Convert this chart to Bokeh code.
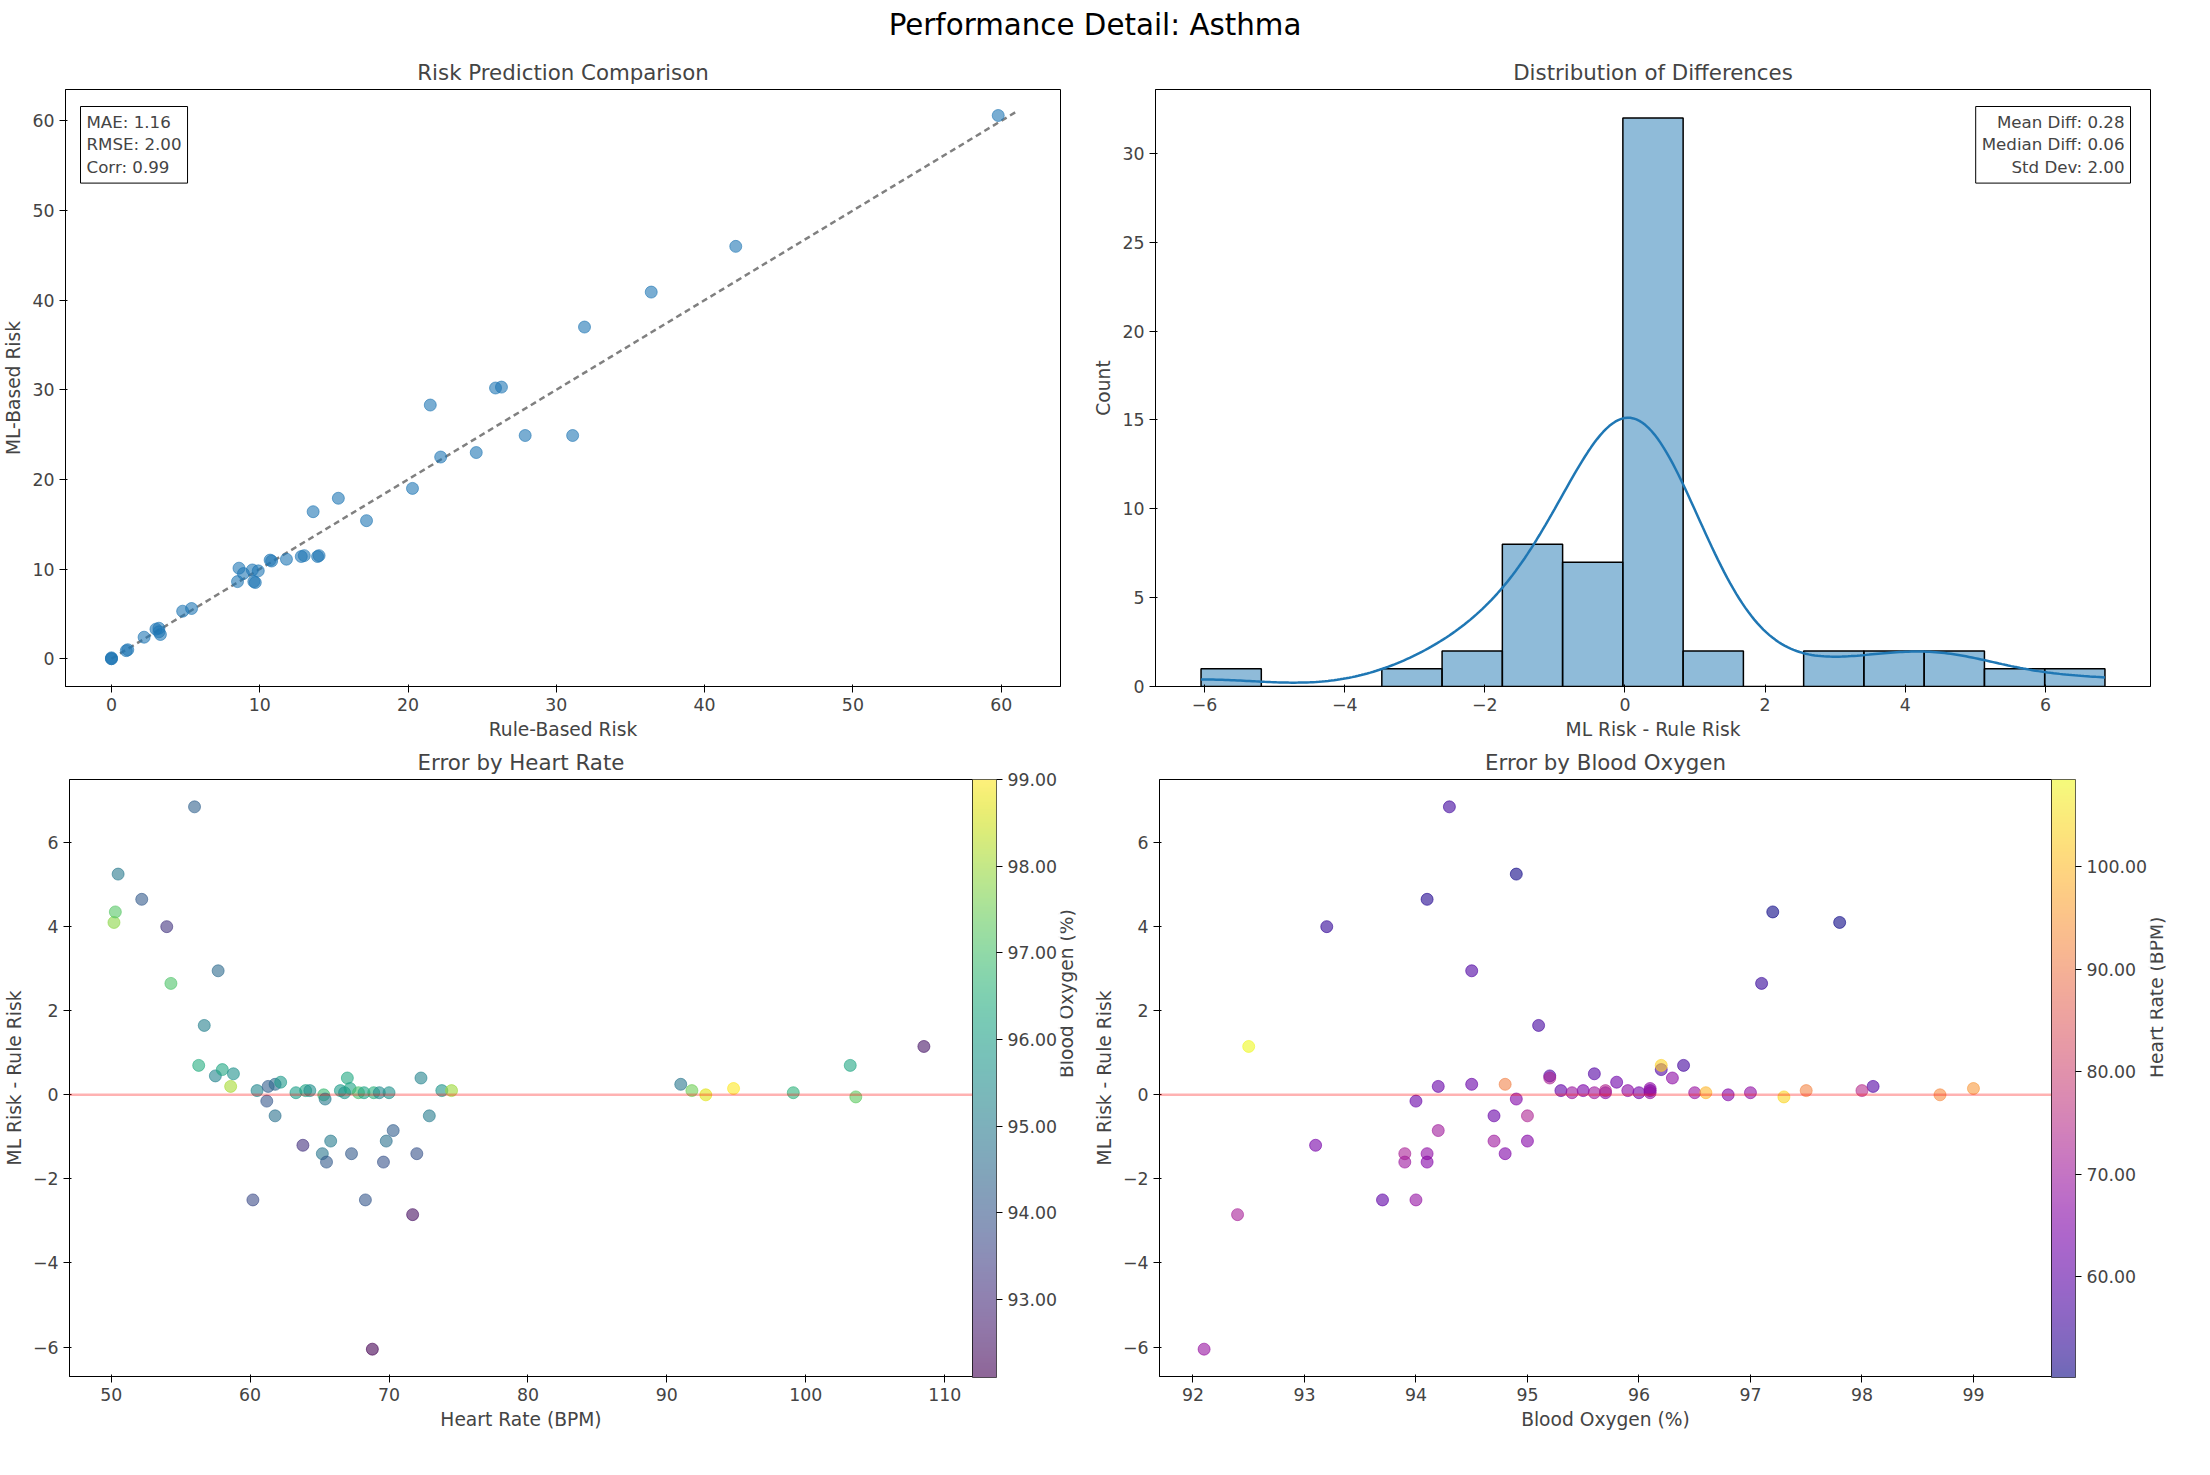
import numpy as np
from bokeh.plotting import figure
from bokeh.layouts import row, column
from bokeh.models import (Div, Label, Span, ColorBar, LinearColorMapper, LinearAxis,
                          NumeralTickFormatter, ColumnDataSource, Range1d)
from bokeh.palettes import Viridis256, Plasma256
from bokeh.embed import file_html
from bokeh.resources import INLINE

# top-left: rule-based vs ML-based risk
rule_risk = [0, 0, 0, 1, 1.1, 2.2, 3, 3.2, 3.3, 3.2, 4.8, 5.4, 8.5, 8.6, 8.9, 9.5, 9.6, 9.7, 9.9, 10.7, 10.8,
             11.8, 12.8, 13, 13.6, 13.9, 14, 15.3, 17.2, 20.3, 21.5, 22.2, 24.6, 25.9, 26.3, 27.9, 31.1, 31.9,
             36.4, 42.1, 59.8]
ml_risk = [0, 0.1, 0, 0.9, 1, 2.4, 3.3, 3.4, 2.7, 3.0, 5.3, 5.6, 8.6, 10.1, 9.5, 9.9, 8.6, 8.5, 9.8, 11, 10.9,
           11.1, 11.4, 11.5, 16.4, 11.4, 11.5, 17.9, 15.4, 19, 28.3, 22.5, 23, 30.2, 30.3, 24.9, 24.9, 37,
           40.9, 46, 60.6]

# top-right: histogram of differences
hist_counts = [1, 0, 0, 1, 2, 8, 7, 32, 2, 0, 2, 2, 2, 1, 1]
hist_lo, hist_hi = -6.05, 6.85

# bottom: per-patient heart rate, blood oxygen, difference
heart_rate = [50.2, 50.3, 50.5, 52.2, 54.0, 54.3, 56.0, 56.7, 56.3, 57.7, 57.5, 58.0, 58.6, 58.8, 60.2, 60.5,
              61.3, 61.2, 61.8, 61.8, 62.2, 63.3, 63.8, 64.0, 64.3, 65.2, 65.3, 65.4, 65.5, 65.8, 66.5, 66.8,
              67.0, 67.2, 67.3, 67.8, 68.2, 68.3, 68.8, 68.9, 69.3, 69.6, 69.8, 70.0, 70.3, 71.7, 72.0, 72.3,
              72.9, 73.8, 74.5, 91.0, 91.8, 92.8, 94.8, 99.1, 103.2, 103.6, 108.5]
blood_oxygen = [97.8, 97.2, 94.9, 94.1, 93.2, 97.1, 94.3, 95.1, 96.4, 94.5, 95.2, 96.2, 98.1, 95.6, 93.7, 95.3,
                94.2, 94.0, 94.5, 94.7, 95.8, 96.0, 93.1, 96.1, 95.5, 94.8, 96.8, 94.9, 94.1, 95.0, 95.9, 95.7,
                96.3, 96.1, 94.1, 97.0, 96.1, 94.0, 92.1, 96.5, 95.4, 93.9, 94.7, 95.6, 94.2, 92.4, 93.9, 95.2,
                95.0, 95.7, 98.0, 94.8, 97.5, 98.7, 99.0, 96.6, 96.2, 97.3, 92.5]
diff = [4.1, 4.35, 5.25, 4.65, 4.0, 2.65, 6.85, 1.65, 0.7, 2.95, 0.45, 0.6, 0.2, 0.5, -2.5, 0.1, 0.2, -0.15,
        0.25, -0.5, 0.3, 0.05, -1.2, 0.1, 0.1, -1.4, 0.0, -0.1, -1.6, -1.1, 0.1, 0.05, 0.4, 0.15, -1.4, 0.05,
        0.05, -2.5, -6.05, 0.05, 0.05, -1.6, -1.1, 0.05, -0.85, -2.85, -1.4, 0.4, -0.5, 0.1, 0.1, 0.25, 0.1,
        0.0, 0.15, 0.05, 0.7, -0.05, 1.15]

BLUE = "#1f77b4"
FONT = "DejaVu Sans"
W, H = 1090, 690


def make_fig(title, xlabel, ylabel, xr, yr):
    p = figure(width=W, height=H, output_backend="svg", toolbar_location=None,
               x_range=Range1d(*xr), y_range=Range1d(*yr), title=title)
    p.title.align = "center"
    p.title.text_font = FONT
    p.title.text_font_size = "16pt"
    p.title.text_font_style = "normal"
    p.xaxis.axis_label = xlabel
    p.yaxis.axis_label = ylabel
    for ax in (p.xaxis, p.yaxis):
        ax.axis_label_text_font = FONT
        ax.axis_label_text_font_size = "14pt"
        ax.axis_label_text_font_style = "normal"
        ax.major_label_text_font = FONT
        ax.major_label_text_font_size = "13pt"
        ax.minor_tick_line_color = None
        ax.major_tick_out = 6
    p.grid.visible = False
    p.outline_line_color = "black"
    p.min_border_right = 30
    return p


def info_box(p, text, x, y, align="left"):
    p.add_layout(Label(x=x, y=y, x_units="screen", y_units="screen", text=text,
                       text_font=FONT, text_font_size="12.5pt", text_align=align,
                       text_baseline="top", border_line_color="black",
                       background_fill_color="white", padding=6))


# panel 1
p1 = make_fig("Risk Prediction Comparison", "Rule-Based Risk", "ML-Based Risk", (-3.1, 64), (-3.1, 63.5))
p1.line([0, 61], [0, 61], line_color="gray", line_dash="6 4", line_width=2.5)
p1.scatter(rule_risk, ml_risk, size=12, fill_color=BLUE, fill_alpha=0.6, line_color=BLUE, line_alpha=0.6)
info_box(p1, "MAE: 1.16\nRMSE: 2.00\nCorr: 0.99", 15, 580)

# panel 2
edges = np.linspace(hist_lo, hist_hi, len(hist_counts) + 1)
p2 = make_fig("Distribution of Differences", "ML Risk - Rule Risk", "Count", (-6.7, 7.5), (0, 33.6))
p2.quad(left=edges[:-1], right=edges[1:], bottom=0, top=hist_counts, fill_color=BLUE,
        fill_alpha=0.5, line_color="black", line_width=1.5)
d = np.array(diff)
bw = d.std(ddof=1) * len(d) ** (-0.2)
xs = np.linspace(hist_lo, hist_hi, 300)
kde = np.exp(-0.5 * ((xs[:, None] - d[None, :]) / bw) ** 2).sum(1) / (np.sqrt(2 * np.pi) * bw)
bin_w = edges[1] - edges[0]
p2.line(xs, kde * bin_w * sum(hist_counts) / len(d), line_color=BLUE, line_width=2.5)
info_box(p2, "Mean Diff: 0.28\nMedian Diff: 0.06\nStd Dev: 2.00", 975, 580, align="right")

# panel 3
vmap = LinearColorMapper(palette=Viridis256, low=min(blood_oxygen), high=max(blood_oxygen))
p3 = make_fig("Error by Heart Rate", "Heart Rate (BPM)", "ML Risk - Rule Risk", (47, 112), (-6.7, 7.5))
p3.add_layout(Span(location=0, dimension="width", line_color="red", line_alpha=0.3, line_width=2.5))
src3 = ColumnDataSource(dict(x=heart_rate, y=diff, c=blood_oxygen))
p3.scatter("x", "y", source=src3, size=12, fill_color={"field": "c", "transform": vmap},
           line_color={"field": "c", "transform": vmap}, fill_alpha=0.6, line_alpha=0.6)

# panel 4
pmap = LinearColorMapper(palette=Plasma256, low=min(heart_rate), high=max(heart_rate))
p4 = make_fig("Error by Blood Oxygen", "Blood Oxygen (%)", "ML Risk - Rule Risk", (91.7, 99.7), (-6.7, 7.5))
p4.add_layout(Span(location=0, dimension="width", line_color="red", line_alpha=0.3, line_width=2.5))
src4 = ColumnDataSource(dict(x=blood_oxygen, y=diff, c=heart_rate))
p4.scatter("x", "y", source=src4, size=12, fill_color={"field": "c", "transform": pmap},
           line_color={"field": "c", "transform": pmap}, fill_alpha=0.6, line_alpha=0.6)

for p, m, lab in ((p3, vmap, "Blood Oxygen (%)"), (p4, pmap, "Heart Rate (BPM)")):
    cb = ColorBar(color_mapper=m, width=24, height=598, padding=0, scale_alpha=0.6,
                  formatter=NumeralTickFormatter(format="0.00"),
                  major_label_text_font=FONT, major_label_text_font_size="13pt",
                  major_tick_line_color="black", major_tick_out=6, major_tick_in=0,
                  bar_line_color="black", margin=45)
    p.add_layout(cb, "right")
    ax = LinearAxis(axis_label=lab, axis_line_color=None, major_tick_line_color=None,
                    minor_tick_line_color=None, major_label_text_font_size="0pt",
                    major_label_standoff=0, axis_label_standoff=0,
                    axis_label_orientation=np.pi / 2,
                    axis_label_text_font=FONT, axis_label_text_font_size="14pt",
                    axis_label_text_font_style="normal")
    p.add_layout(ax, "right")

title = Div(text="<div style='width:2180px;text-align:center;font-family:DejaVu Sans;"
                 "font-size:22pt;'>Performance Detail: Asthma</div>")
page = column(title, row(p1, p2), row(p3, p4))
open("out.html", "w").write(file_html(page, INLINE))
